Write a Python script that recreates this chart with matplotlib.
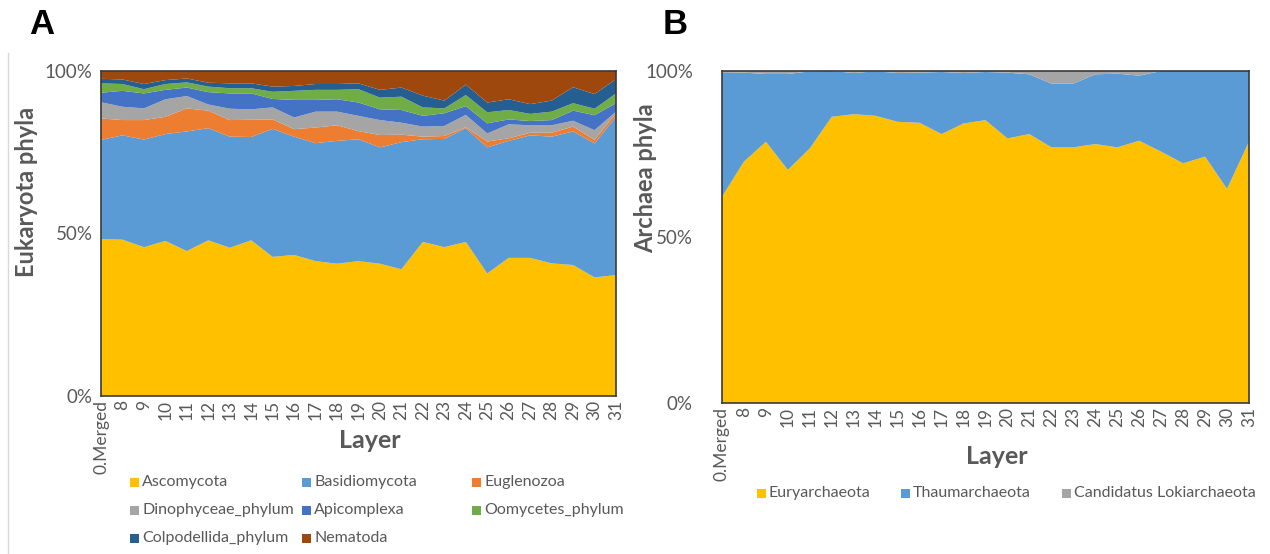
import numpy as np
import matplotlib
matplotlib.use("Agg")
import matplotlib.pyplot as plt
from matplotlib.patches import Rectangle
from matplotlib.lines import Line2D

# ---- data -------------------------------------------------------------
layers = ["0.Merged"] + [str(n) for n in range(8, 32)]

# Eukaryota phyla, relative abundance (%)
ascomycota = [48.3, 48.1, 45.8, 47.7, 44.6, 47.9, 45.6, 47.9, 42.8, 43.4, 41.5, 40.7, 41.5,
              40.7, 39.0, 47.4, 45.8, 47.4, 37.7, 42.5, 42.5, 40.8, 40.3, 36.5, 37.2]
basidiomycota = [30.5, 32.1, 33.1, 32.9, 36.8, 34.5, 34.2, 31.8, 39.4, 36.4, 36.3, 37.8, 37.5,
                 35.8, 39.1, 31.6, 33.3, 35.0, 38.8, 36.0, 37.7, 39.0, 41.1, 41.2, 48.7]
euglenozoa = [6.6, 4.7, 6.0, 5.3, 7.1, 5.4, 5.1, 5.3, 2.9, 2.3, 4.8, 4.8, 2.5,
              3.8, 2.3, 0.8, 0.9, 0.3, 1.8, 0.8, 0.8, 1.2, 1.5, 1.1, 1.1]
dinophyceae = [5.0, 4.1, 3.6, 5.4, 3.8, 1.9, 3.5, 3.2, 3.7, 3.6, 4.9, 4.2, 4.7,
               4.6, 3.7, 3.1, 3.1, 3.8, 2.5, 4.3, 2.3, 2.3, 1.8, 3.0, 0.5]
apicomplexa = [2.9, 4.9, 4.6, 2.9, 2.6, 3.8, 4.7, 4.9, 2.6, 5.4, 3.6, 3.8, 4.1,
               3.3, 3.9, 3.3, 3.9, 2.7, 3.1, 1.5, 1.3, 1.6, 3.1, 4.6, 2.6]
oomycetes = [2.9, 2.1, 1.3, 1.8, 1.6, 1.7, 1.6, 1.6, 2.2, 2.8, 3.1, 2.9, 4.1,
             3.6, 4.1, 2.6, 1.5, 3.4, 3.4, 2.9, 2.2, 2.6, 2.3, 2.0, 3.0]
colpodellida = [1.4, 1.4, 1.6, 1.2, 1.2, 1.2, 1.5, 1.5, 1.6, 1.5, 1.8, 1.8, 1.8,
                2.4, 2.8, 3.6, 2.4, 3.2, 3.0, 3.3, 3.0, 3.4, 4.9, 4.5, 4.4]
nematoda = [2.4, 2.6, 4.0, 2.8, 2.3, 3.6, 3.8, 3.8, 4.8, 4.6, 4.0, 4.0, 3.8,
            5.8, 5.1, 7.6, 9.1, 4.2, 9.7, 8.7, 10.2, 9.1, 5.0, 7.1, 2.5]
euk_names = ["Ascomycota", "Basidiomycota", "Euglenozoa", "Dinophyceae_phylum",
             "Apicomplexa", "Oomycetes_phylum", "Colpodellida_phylum", "Nematoda"]

# Archaea phyla, relative abundance (%)
euryarchaeota = [62.1, 72.7, 78.7, 70.2, 76.7, 86.2, 87.0, 86.5, 84.7, 84.4, 81.0, 84.2, 85.2,
                 79.7, 81.0, 77.0, 77.0, 78.0, 77.0, 79.0, 75.7, 72.2, 74.2, 64.5, 78.7]
thaumarchaeota = [37.3, 26.8, 20.4, 28.9, 23.2, 13.8, 12.4, 13.4, 14.7, 15.1, 18.7, 15.2, 14.5,
                  19.8, 18.0, 19.2, 19.2, 21.0, 22.2, 19.6, 24.3, 27.8, 25.8, 35.5, 21.3]
lokiarchaeota = [0.6, 0.5, 0.9, 0.9, 0.1, 0.0, 0.6, 0.1, 0.6, 0.5, 0.3, 0.6, 0.3,
                 0.5, 1.0, 3.8, 3.8, 1.0, 0.8, 1.4, 0.0, 0.0, 0.0, 0.0, 0.0]
arc_names = ["Euryarchaeota", "Thaumarchaeota", "Candidatus Lokiarchaeota"]

# ---- style ------------------------------------------------------------
euk_colors = ["#FFC000", "#5B9BD5", "#ED7D31", "#A5A5A5",
              "#4472C4", "#70AD47", "#255E91", "#9E480E"]
arc_colors = ["#FFC000", "#5B9BD5", "#A5A5A5"]
TXT = "#595959"
plt.rcParams["font.family"] = ["Lato", "DejaVu Sans"]

W, H = 1270, 554
fig = plt.figure(figsize=(W / 100, H / 100), dpi=100)


def px_axes(x0, y0, x1, y1):
    return fig.add_axes([x0 / W, 1 - y1 / H, (x1 - x0) / W, (y1 - y0) / H])


def percent_stack(ax, series, colors, ypad):
    data = np.array(series, dtype=float)
    data = data / data.sum(axis=0) * 100.0
    x = np.arange(data.shape[1])
    ax.stackplot(x, data, colors=colors, linewidth=0)
    ax.set_xlim(0, len(x) - 1)
    ax.set_ylim(0, 100)
    ax.set_yticks([0, 50, 100])
    ax.set_yticklabels(["0%", "50%", "100%"])
    ax.set_xticks(x)
    ax.set_xticklabels(layers, rotation=90)
    ax.tick_params(axis="x", length=0, pad=3, labelsize=12.5, labelcolor=TXT)
    ax.tick_params(axis="y", length=0, pad=ypad, labelsize=13.5, labelcolor=TXT)
    for s in ax.spines.values():
        s.set_color("#3a3a3a")
        s.set_linewidth(1.2)


def legend_entry(x, y, color, label):
    fig.patches.append(Rectangle(((x) / W, 1 - (y + 4.5) / H), 9 / W, 9 / H,
                                 transform=fig.transFigure, facecolor=color,
                                 edgecolor="none"))
    fig.text((x + 12) / W, 1 - y / H, label, ha="left", va="center",
             fontsize=11.5, color=TXT)


# ---- panel A: Eukaryota ----------------------------------------------
axA = px_axes(101, 71, 616, 396)
percent_stack(axA, [ascomycota, basidiomycota, euglenozoa, dinophyceae,
                    apicomplexa, oomycetes, colpodellida, nematoda],
              euk_colors, ypad=6)
fig.text(370 / W, 1 - 441 / H, "Layer", ha="center", va="center",
         fontsize=18, fontweight="bold", color=TXT)
fig.text(27 / W, 1 - 192 / H, "Eukaryota phyla", ha="center", va="center",
         rotation=90, fontsize=17, fontweight="bold", color=TXT)

colsA = [130, 302, 472]
rowsA = [482, 510, 538]
for k, (name, col) in enumerate(zip(euk_names, euk_colors)):
    legend_entry(colsA[k % 3], rowsA[k // 3], col, name)

# ---- panel B: Archaea -------------------------------------------------
axB = px_axes(722, 71, 1249, 403)
percent_stack(axB, [euryarchaeota, thaumarchaeota, lokiarchaeota],
              arc_colors, ypad=21)
fig.text(997 / W, 1 - 457 / H, "Layer", ha="center", va="center",
         fontsize=18, fontweight="bold", color=TXT)
fig.text(646 / W, 1 - 178 / H, "Archaea phyla", ha="center", va="center",
         rotation=90, fontsize=17, fontweight="bold", color=TXT)

colsB = [757, 901, 1062]
for name, col, cx in zip(arc_names, arc_colors, colsB):
    legend_entry(cx, 493, col, name)

# ---- panel letters and chart-area edge --------------------------------
fig.text(42 / W, 1 - 24 / H, "A", ha="center", va="center", fontsize=25,
         fontweight="bold", family=["Liberation Sans", "DejaVu Sans"], color="black")
fig.text(675 / W, 1 - 24 / H, "B", ha="center", va="center", fontsize=25,
         fontweight="bold", family=["Liberation Sans", "DejaVu Sans"], color="black")
fig.add_artist(Line2D([8 / W, 8 / W], [1 - 53 / H, 0], transform=fig.transFigure,
                      color="#d9d9d9", linewidth=1))

fig.savefig("out.png", dpi=100, facecolor="white")
